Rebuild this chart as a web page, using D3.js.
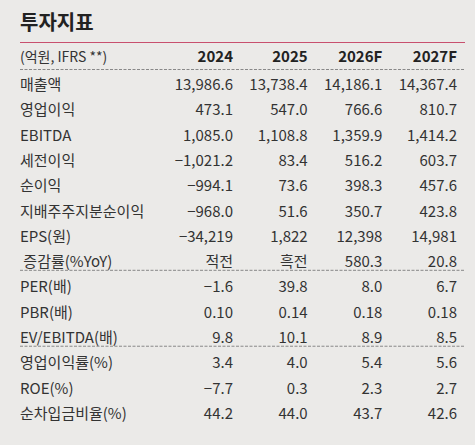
<!DOCTYPE html>
<meta charset="utf-8">
<style>
  body { margin: 0; background: #ebeae8; }
  text { font-family: "Noto Sans CJK KR", sans-serif; fill: #333; }
</style>
<body>
<svg width="475" height="445"></svg>
<script src="https://cdn.jsdelivr.net/npm/d3@7"></script>
<script>
var title = "투자지표";
var unitLabel = "(억원, IFRS **)";
var years = ["2024", "2025", "2026F", "2027F"];
var rowLabels = ["매출액", "영업이익", "EBITDA", "세전이익", "순이익", "지배주주지분순이익", "EPS(원)", " 증감률(%YoY)",
  "PER(배)", "PBR(배)", "EV/EBITDA(배)", "영업이익률(%)", "ROE(%)", "순차입금비율(%)"];
var values = [
  ["13,986.6", "13,738.4", "14,186.1", "14,367.4"],
  ["473.1", "547.0", "766.6", "810.7"],
  ["1,085.0", "1,108.8", "1,359.9", "1,414.2"],
  ["−1,021.2", "83.4", "516.2", "603.7"],
  ["−994.1", "73.6", "398.3", "457.6"],
  ["−968.0", "51.6", "350.7", "423.8"],
  ["−34,219", "1,822", "12,398", "14,981"],
  ["적전", "흑전", "580.3", "20.8"],
  ["−1.6", "39.8", "8.0", "6.7"],
  ["0.10", "0.14", "0.18", "0.18"],
  ["9.8", "10.1", "8.9", "8.5"],
  ["3.4", "4.0", "5.4", "5.6"],
  ["−7.7", "0.3", "2.3", "2.7"],
  ["44.2", "44.0", "43.7", "42.6"]
];
var dashAfter = [7, 10];

var svg = d3.select("svg");
var x = d3.scalePoint().domain(years).range([233, 457]);
var y = d3.scalePoint().domain(d3.range(rowLabels.length)).range([85, 414]);

svg.append("text").attr("x", 20).attr("y", 30)
  .style("font-size", "20px").style("font-weight", "bold").style("fill", "#222").text(title);
svg.append("line").attr("x1", 20).attr("x2", 465).attr("y1", 42.5).attr("y2", 42.5)
  .attr("stroke", "#c8506e").attr("stroke-width", 1.2);

svg.append("text").attr("x", 20).attr("y", 62).style("font-size", "14px").text(unitLabel);
svg.selectAll(".yr").data(years).enter().append("text")
  .attr("x", function(d) { return x(d); }).attr("y", 62).attr("text-anchor", "end")
  .style("font-size", "15px").style("font-weight", "bold").style("fill", "#222").text(function(d) { return d; });

function dash(yy) {
  svg.append("line").attr("x1", 20).attr("x2", 465).attr("y1", yy).attr("y2", yy)
    .attr("stroke", "#888").attr("stroke-dasharray", "3,1.5").attr("stroke-width", 1);
}
dash(69.5);
dashAfter.forEach(function(i) { dash((y(i) + y(i + 1)) / 2 - 4.5); });

var rows = svg.selectAll(".row").data(rowLabels).enter().append("g")
  .attr("transform", function(d, i) { return "translate(0," + (y(i) + 5) + ")"; });
rows.append("text").attr("x", 20).style("font-size", "15px").text(function(d) { return d; })
  .attr("xml:space", "preserve");
rows.each(function(d, i) {
  d3.select(this).selectAll(".v").data(values[i]).enter().append("text")
    .attr("x", function(v, j) { return x(years[j]); }).attr("text-anchor", "end")
    .style("font-size", "15px").text(function(v) { return v; });
});
</script>
</body>
